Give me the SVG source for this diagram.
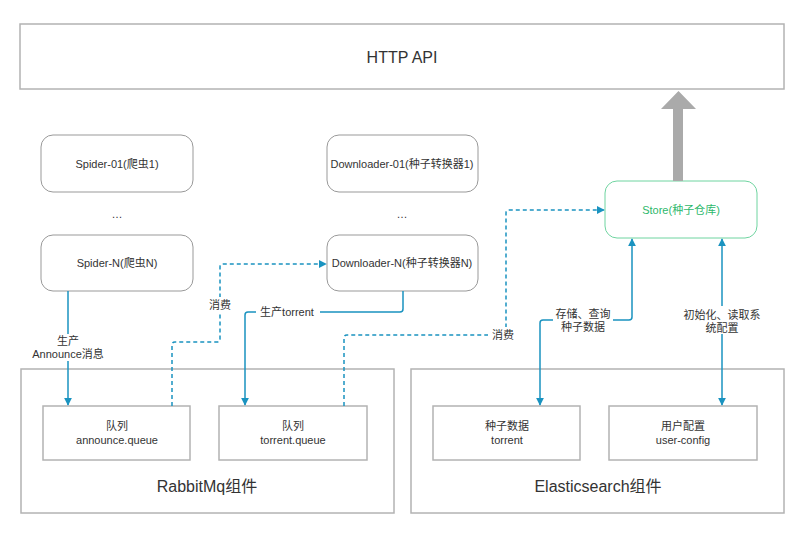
<svg xmlns="http://www.w3.org/2000/svg" width="808" height="539" viewBox="0 0 808 539">
<defs>
<style>
text{font-family:"Liberation Sans","Noto Sans CJK SC",Arial,sans-serif;fill:#333;text-anchor:middle;dominant-baseline:central}
.node{fill:#fff;stroke:#999;stroke-width:1}
.box{fill:#fff;stroke:#b3b3b3;stroke-width:1.5}
.c{fill:none;stroke:#1a93c0;stroke-width:1.5;stroke-linejoin:round}
.d{stroke-dasharray:4 3}
.s11{font-size:11px}
.lbl{fill:#fff;stroke:none}
</style>
<marker id="ah" viewBox="0 0 10 10" refX="9" refY="5" markerWidth="8" markerHeight="8" markerUnits="userSpaceOnUse" orient="auto-start-reverse">
<path d="M0,0 L10,5 L0,10 Z" fill="#1a93c0"/>
</marker>
</defs>
<rect width="808" height="539" fill="#fff"/>

<g id="http-api">
<rect class="box" x="20" y="24" width="764" height="65"/>
<text x="402" y="57" font-size="16">HTTP API</text>
</g>

<g id="rabbitmq">
<rect class="box" x="21" y="369" width="373" height="144"/>
<text x="207" y="486" font-size="16">RabbitMq组件</text>
</g>
<g id="elasticsearch">
<rect class="box" x="411" y="369" width="373" height="144"/>
<text x="598" y="486" font-size="16">Elasticsearch组件</text>
</g>

<g id="spider-01">
<rect class="node" x="41" y="135" width="152" height="57" rx="12"/>
<text class="s11" x="117" y="164">Spider-01(爬虫1)</text>
</g>
<text class="s11" x="117" y="214">…</text>
<g id="spider-n">
<rect class="node" x="41" y="235" width="152" height="56" rx="12"/>
<text class="s11" x="117" y="263">Spider-N(爬虫N)</text>
</g>
<g id="downloader-01">
<rect class="node" x="327" y="135" width="151" height="57" rx="12"/>
<text class="s11" x="402" y="164">Downloader-01(种子转换器1)</text>
</g>
<text class="s11" x="402" y="214">…</text>
<g id="downloader-n">
<rect class="node" x="327" y="235" width="151" height="56" rx="12"/>
<text class="s11" x="402" y="263">Downloader-N(种子转换器N)</text>
</g>
<g id="store">
<rect x="605" y="181" width="152" height="57" rx="12" fill="#fff" stroke="#6fd4a0" stroke-width="1"/>
<text class="s11" x="681" y="210" style="fill:#2db86c">Store(种子仓库)</text>
</g>

<g id="announce-queue">
<rect class="box" x="43" y="406" width="147" height="54"/>
<text class="s11" x="117" y="426">队列</text>
<text class="s11" x="117" y="440">announce.queue</text>
</g>
<g id="torrent-queue">
<rect class="box" x="219" y="406" width="148" height="54"/>
<text class="s11" x="293" y="426">队列</text>
<text class="s11" x="293" y="440">torrent.queue</text>
</g>
<g id="torrent-index">
<rect class="box" x="433" y="406" width="147" height="54"/>
<text class="s11" x="507" y="426">种子数据</text>
<text class="s11" x="507" y="440">torrent</text>
</g>
<g id="user-config">
<rect class="box" x="609" y="406" width="148" height="54"/>
<text class="s11" x="683" y="426">用户配置</text>
<text class="s11" x="683" y="440">user-config</text>
</g>

<g id="connectors">
<path d="M683,181 L683,109 L696,109 L678.5,91 L661,109 L673,109 L673,181 Z" fill="#aaaaaa"/>

<path class="c" d="M68,291 L68,405" marker-end="url(#ah)"/>
<rect class="lbl" x="30" y="334" width="76" height="27"/>
<text class="s11" x="68" y="341">生产</text>
<text class="s11" x="68" y="354">Announce消息</text>

<path class="c d" d="M172,406 L172,345 Q172,342 175,342 L217,342 Q220,342 220,339 L220,267 Q220,264 223,264 L326,264" marker-end="url(#ah)"/>
<rect class="lbl" x="206" y="297" width="28" height="16"/>
<text class="s11" x="220" y="305">消费</text>

<path class="c" d="M403,291 L403,309 Q403,312 400,312 L248,312 Q245,312 245,315 L245,405" marker-end="url(#ah)"/>
<rect class="lbl" x="256" y="304" width="64" height="16"/>
<text class="s11" x="287" y="312">生产torrent</text>

<path class="c d" d="M344,406 L344,338 Q344,335 347,335 L503,335 Q506,335 506,332 L506,213 Q506,210 509,210 L604,210" marker-end="url(#ah)"/>
<rect class="lbl" x="488" y="327" width="30" height="16"/>
<text class="s11" x="503" y="335">消费</text>

<path class="c" d="M540,405 L540,323 Q540,320 543,320 L629,320 Q632,320 632,317 L632,239" marker-start="url(#ah)" marker-end="url(#ah)"/>
<rect class="lbl" x="553" y="306" width="60" height="28"/>
<text class="s11" x="583" y="314">存储、查询</text>
<text class="s11" x="583" y="327">种子数据</text>

<path class="c" d="M722,405 L722,239" marker-start="url(#ah)" marker-end="url(#ah)"/>
<rect class="lbl" x="680" y="306" width="84" height="28"/>
<text class="s11" x="722" y="315">初始化、读取系</text>
<text class="s11" x="722" y="328">统配置</text>
</g>
</svg>
